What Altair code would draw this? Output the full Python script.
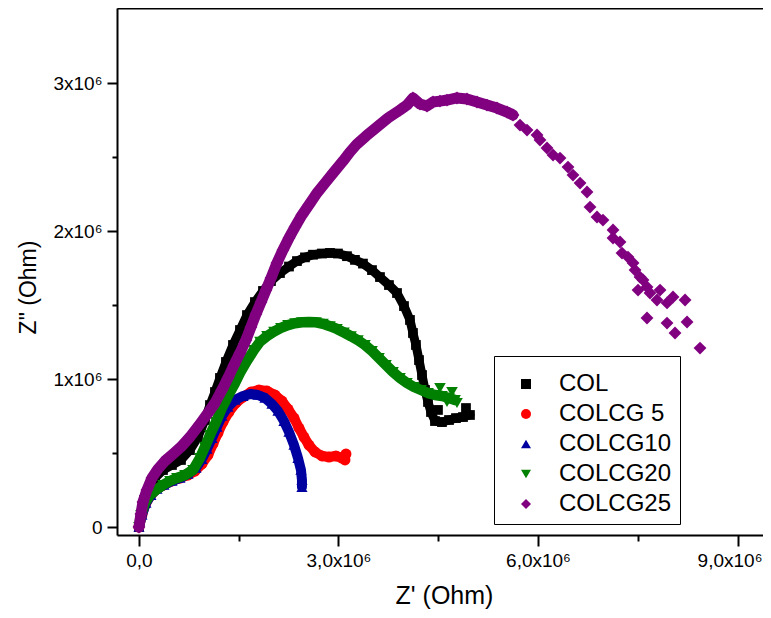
import altair as alt
import pandas as pd

# ---------------- data (Z' and Z'' in units of 10^6 Ohm) ----------------
series_names = ["COL", "COLCG 5", "COLCG10", "COLCG20", "COLCG25"]
colors = ["#000000", "#FF0000", "#0000A0", "#008000", "#800080"]
shapes = ["square", "circle", "triangle-up", "triangle-down", "diamond"]

col_x = [0, 0.03, 0.075, 0.150, 0.241, 0.361, 0.496, 0.632, 0.767, 0.887, 0.992, 1.068, 1.143,
         1.218, 1.308, 1.414, 1.519, 1.624, 1.744, 1.865, 1.985, 2.120, 2.256, 2.376, 2.496,
         2.617, 2.752, 2.872, 2.992, 3.128, 3.248, 3.368, 3.504, 3.624, 3.759, 3.880, 3.985,
         4.075, 4.120, 4.165, 4.211, 4.256, 4.301, 4.346, 4.391, 4.451, 4.556, 4.662, 4.767,
         4.872, 4.977, 4.496, 4.917]
col_y = [0, 0.088, 0.182, 0.264, 0.331, 0.385, 0.419, 0.453, 0.520, 0.608, 0.723, 0.824, 0.912,
         1.007, 1.115, 1.230, 1.331, 1.432, 1.520, 1.595, 1.662, 1.716, 1.760, 1.797, 1.822,
         1.840, 1.848, 1.852, 1.848, 1.830, 1.805, 1.780, 1.736, 1.689, 1.635, 1.581, 1.493,
         1.399, 1.311, 1.230, 1.128, 1.027, 0.926, 0.845, 0.777, 0.716, 0.709, 0.723, 0.736,
         0.743, 0.757, 0.791, 0.804]

cg5_x = [0, 0.045, 0.105, 0.180, 0.271, 0.376, 0.496, 0.617, 0.737, 0.842, 0.947, 1.038, 1.113,
         1.188, 1.263, 1.353, 1.459, 1.564, 1.684, 1.805, 1.925, 2.045, 2.150, 2.241, 2.331,
         2.406, 2.481, 2.556, 2.647, 2.752, 2.857, 2.962, 3.053, 3.113, 3.098]
cg5_y = [0, 0.081, 0.162, 0.216, 0.257, 0.284, 0.311, 0.331, 0.351, 0.378, 0.426, 0.486, 0.561,
         0.635, 0.709, 0.777, 0.838, 0.878, 0.912, 0.926, 0.919, 0.892, 0.851, 0.797, 0.736,
         0.669, 0.608, 0.554, 0.507, 0.480, 0.473, 0.480, 0.466, 0.493, 0.453]

cg10_x = [0, 0.045, 0.105, 0.180, 0.271, 0.376, 0.496, 0.617, 0.737, 0.857, 0.947, 1.023, 1.098,
          1.173, 1.248, 1.338, 1.444, 1.564, 1.684, 1.789, 1.895, 2.000, 2.090, 2.180, 2.256,
          2.331, 2.391, 2.436, 2.451, 2.451]
cg10_y = [0, 0.081, 0.162, 0.216, 0.257, 0.284, 0.311, 0.331, 0.358, 0.399, 0.459, 0.527, 0.601,
          0.676, 0.750, 0.811, 0.858, 0.885, 0.899, 0.892, 0.872, 0.831, 0.784, 0.716, 0.642,
          0.554, 0.466, 0.385, 0.318, 0.270]

cg20_x = [0, 0.03, 0.090, 0.165, 0.256, 0.361, 0.466, 0.571, 0.692, 0.812, 0.917, 0.992, 1.068,
          1.158, 1.248, 1.338, 1.429, 1.519, 1.624, 1.729, 1.820, 1.925, 2.030, 2.135, 2.241,
          2.346, 2.451, 2.556, 2.662, 2.767, 2.872, 2.977, 3.083, 3.188, 3.293, 3.398, 3.504,
          3.609, 3.714, 3.820, 3.925, 4.030, 4.135, 4.241, 4.346, 4.451, 4.556, 4.662, 4.752,
          4.526, 4.707, 4.782, 4.632]
cg20_y = [0, 0.081, 0.162, 0.216, 0.250, 0.284, 0.311, 0.331, 0.351, 0.385, 0.466, 0.541, 0.622,
          0.709, 0.804, 0.885, 0.959, 1.041, 1.122, 1.196, 1.252, 1.290, 1.320, 1.345, 1.364,
          1.377, 1.384, 1.385, 1.383, 1.373, 1.357, 1.338, 1.314, 1.289, 1.262, 1.230, 1.189,
          1.142, 1.095, 1.047, 1.007, 0.973, 0.946, 0.926, 0.905, 0.892, 0.885, 0.872, 0.858,
          0.939, 0.912, 0.838, 0.845]

cg25_x = [0, 0.03, 0.06, 0.12, 0.195, 0.286, 0.391, 0.511, 0.632, 0.767, 0.917, 1.038, 1.143,
          1.248, 1.338, 1.429, 1.519, 1.609, 1.684, 1.759, 1.835, 1.910, 1.985, 2.075, 2.165,
          2.256, 2.346, 2.451, 2.556, 2.677, 2.797, 2.932, 3.068, 3.173, 3.278, 3.414, 3.579,
          3.744, 3.925, 4.030, 4.120, 4.226, 4.331, 4.421, 4.526, 4.632, 4.782, 4.932, 5.083,
          5.233, 5.383, 5.534, 5.624, 5.729, 5.835, 5.985, 6.030, 6.135, 6.226, 6.331, 6.451,
          6.526, 6.632, 6.737, 6.782, 6.887, 6.977, 7.128, 7.128, 7.233, 7.263, 7.353, 7.429,
          7.459, 7.534, 7.579, 7.639, 7.504, 7.684, 7.835, 7.789, 7.940, 8.030, 8.211, 7.639,
          7.940, 8.060, 8.241, 8.436]
cg25_y = [0, 0.088, 0.169, 0.250, 0.331, 0.392, 0.446, 0.493, 0.541, 0.608, 0.696, 0.770, 0.838,
          0.926, 1.007, 1.095, 1.176, 1.264, 1.351, 1.439, 1.520, 1.601, 1.682, 1.784, 1.872,
          1.953, 2.027, 2.108, 2.176, 2.257, 2.324, 2.399, 2.473, 2.534, 2.588, 2.642, 2.703,
          2.764, 2.818, 2.851, 2.899, 2.858, 2.845, 2.872, 2.878, 2.885, 2.899, 2.892, 2.872,
          2.851, 2.831, 2.804, 2.784, 2.716, 2.682, 2.649, 2.615, 2.561, 2.514, 2.493, 2.432,
          2.378, 2.324, 2.264, 2.162, 2.095, 2.074, 2.007, 1.953, 1.926, 1.851, 1.824, 1.784,
          1.736, 1.689, 1.669, 1.622, 1.601, 1.581, 1.601, 1.534, 1.514, 1.554, 1.534, 1.412,
          1.378, 1.311, 1.385, 1.209]

all_x = [col_x, cg5_x, cg10_x, cg20_x, cg25_x]
all_y = [col_y, cg5_y, cg10_y, cg20_y, cg25_y]
# how many leading points of each series form the dense, continuous trace
dense_count = [51, 34, 30, 49, 53]

x_tick_values = [0, 1.5, 3, 4.5, 6, 7.5, 9]
x_tick_text = ["0,0", "", "3,0x10\u2076", "", "6,0x10\u2076", "", "9,0x10\u2076"]
y_tick_values = [0, 0.5, 1, 1.5, 2, 2.5, 3]
y_tick_text = ["0", "", "1x10\u2076", "", "2x10\u2076", "", "3x10\u2076"]

# styling
marker_sizes = [95, 120, 125, 135, 165]
trace_widths = [9, 10, 10, 10.5, 11]

rows = []
for name, xs, ys, nd in zip(series_names, all_x, all_y, dense_count):
    for i, (xv, yv) in enumerate(zip(xs, ys)):
        rows.append({"series": name, "zr": xv, "zi": yv, "i": i, "dense": i < nd})
df = pd.DataFrame(rows)


def label_expr(vals, texts):
    expr = "''"
    for v, t in reversed(list(zip(vals, texts))):
        expr = f"datum.value === {v} ? '{t}' : ({expr})"
    return expr


FONT = "Liberation Sans"
x_dom = [-0.33, 9.383]
y_dom = [-0.054, 3.507]

x_scale = alt.Scale(domain=x_dom, nice=False, zero=False)
y_scale = alt.Scale(domain=y_dom, nice=False, zero=False)
color_scale = alt.Scale(domain=series_names, range=colors)
shape_scale = alt.Scale(domain=series_names, range=shapes)

y_axis = alt.Axis(
    values=y_tick_values,
    labelExpr=label_expr(y_tick_values, y_tick_text),
    title='Z" (Ohm)',
    titleFont=FONT, titleFontSize=23, titleFontWeight="normal", titleColor="#000000",
    titleX=-89, titleY=279, titleAngle=270, titleAlign="center", titleBaseline="middle",
    labelFont=FONT, labelFontSize=19, labelColor="#000000", labelPadding=5,
    tickSize={"condition": {"test": "datum.value % 1 === 0", "value": 10}, "value": 5},
    tickColor="#000000", tickWidth=2, domainColor="#000000", domainWidth=2,
    grid=False, labelOverlap=False,
)

x_axis_bottom = alt.Axis(
    values=x_tick_values,
    labelExpr=label_expr(x_tick_values, x_tick_text),
    title="Z' (Ohm)",
    titleFont=FONT, titleFontSize=25, titleFontWeight="normal", titleColor="#000000",
    titleX=327, titleY=60, titleAlign="center", titleBaseline="middle",
    labelFont=FONT, labelFontSize=19, labelColor="#000000", labelPadding=5,
    labelOffset={"condition": {"test": "datum.value === 9", "value": -8}, "value": 0},
    tickSize={"condition": {"test": "datum.value % 3 === 0", "value": 11}, "value": 6},
    tickColor="#000000", tickWidth=2, domainColor="#000000", domainWidth=2,
    grid=False, labelOverlap=False, orient="bottom",
)

x_axis_top = alt.Axis(
    orient="top", labels=False, ticks=False, title=None, grid=False,
    domainColor="#000000", domainWidth=2,
)

legend_def = alt.Legend(
    title=" ", orient="none", legendX=377, legendY=348,
    strokeColor="#000000", fillColor="#FFFFFF",
    padding=8, symbolOffset=12, labelOffset=21, rowPadding=6,
    labelFont=FONT, labelFontSize=24, labelColor="#000000",
    symbolSize=100, symbolStrokeWidth=0, symbolOpacity=1,
    titleFontSize=7, titlePadding=1, cornerRadius=0,
)

series_layers = []
for k, name in enumerate(series_names):
    sub = df[df["series"] == name]
    trace = alt.Chart(sub[sub["dense"]]).mark_line(
        strokeWidth=trace_widths[k], strokeJoin="round", strokeCap="round", color=colors[k]
    ).encode(
        x=alt.X("zr:Q", scale=x_scale, axis=x_axis_bottom),
        y=alt.Y("zi:Q", scale=y_scale, axis=y_axis),
        order=alt.Order("i:Q"),
    )
    pts = alt.Chart(sub).mark_point(
        filled=True, size=marker_sizes[k], opacity=1, strokeWidth=0
    ).encode(
        x=alt.X("zr:Q", scale=x_scale, axis=x_axis_bottom),
        y=alt.Y("zi:Q", scale=y_scale, axis=y_axis),
        color=alt.Color("series:N", scale=color_scale, legend=legend_def),
        shape=alt.Shape("series:N", scale=shape_scale, legend=legend_def),
    )
    series_layers += [trace, pts]

main = alt.layer(*series_layers)

frame_top = alt.Chart(df).mark_point(opacity=0).encode(
    x=alt.X("zr:Q", scale=x_scale, axis=x_axis_top),
    y=alt.Y("zi:Q", scale=y_scale, axis=y_axis),
)

chart = alt.layer(frame_top, main).resolve_axis(x="independent").properties(
    width=646, height=527,
    autosize=alt.AutoSizeParams(type="none"),
    padding={"left": 109, "top": 0, "right": 0, "bottom": 75},
).configure_view(stroke=None).configure_legend(
    strokeColor="#000000", fillColor="#FFFFFF", strokeWidth=1,
).configure(background="#FFFFFF")

chart.save("out.html", embed_options={"renderer": "svg", "actions": False})
